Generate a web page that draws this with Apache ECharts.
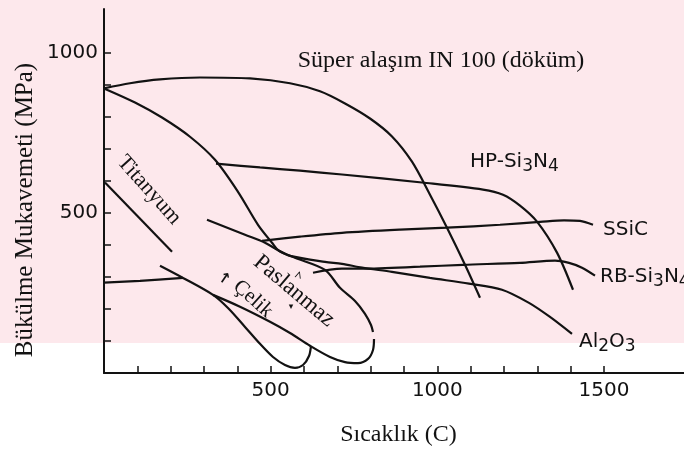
<!DOCTYPE html>
<html><head><meta charset="utf-8">
<script src="https://cdn.jsdelivr.net/npm/echarts@6/dist/echarts.min.js"></script>
<style>html,body{margin:0;padding:0;background:#fff}#c{width:684px;height:452px}</style>
</head><body><div id="c"></div>
<script>
// ---- tick values ----
const xTicks = [100,200,300,400,500,600,700,800,900,1000,1100,1200,1300,1400,1500];
const xLabelValues = [500,1000,1500];
const yTicks = [100,200,300,400,500,600,700,800,900,1000];
const yLabelValues = [500,1000];

// ---- curves [temperature C, strength MPa] ----
const in100 = [[0,889],[78,905],[168,917],[288,923],[438,920],[558,905],[648,880],[723,842],[798,795],[864,739],[924,660],[978,557],[1029,454],[1083,338],[1128,235]];
const hpSi3N4 = [[336,654],[468,642],[588,632],[714,620],[954,595],[1137,573],[1197,557],[1248,523],[1299,473],[1359,376],[1407,260]];
const titanyumUst = [[0,889],[93,845],[174,798],[258,738],[333,666],[402,566],[462,463],[504,407],[525,382],[573,360],[663,322],[708,266],[753,225],[783,185],[801,150],[807,128]];
const al2O3 = [[309,479],[423,432],[483,407],[525,382],[558,366],[663,347],[714,341],[774,329],[864,316],[978,297],[1095,279],[1194,260],[1275,219],[1338,175],[1404,122]];
const ssic = [[474,413],[588,426],[714,438],[888,448],[1029,454],[1188,463],[1308,472],[1380,477],[1428,475],[1467,463]];
const rbLeft = [[0,282],[108,288],[237,297]];
const rbRight = [[627,313],[714,326],[774,326],[948,332],[1077,338],[1248,344],[1353,351],[1395,344],[1434,329],[1473,304]];
const titanyumAlt = [[3,595],[204,379]];
const celikAlt = [[168,335],[237,297],[327,244],[372,203],[423,144],[468,91],[507,50],[543,25],[573,16],[597,25],[615,53],[621,85]];
const paslanmazAlt = [[327,244],[408,207],[498,160],[558,125],[618,85],[678,50],[723,34],[762,31],[792,44],[807,72],[810,106]];

const curves = [
  ['IN 100', in100], ['HP-Si3N4', hpSi3N4], ['Titanyum üst', titanyumUst], ['Al2O3', al2O3],
  ['SSiC', ssic], ['RB-Si3N4 a', rbLeft], ['RB-Si3N4 b', rbRight], ['Titanyum alt', titanyumAlt],
  ['Çelik alt', celikAlt], ['Paslanmaz alt', paslanmazAlt]
];

const INK = '#121212';
const SANS = 'DejaVu Sans';
const SERIF = 'Liberation Serif';
const mctx = document.createElement('canvas').getContext('2d');
function measure(t, fs, fam){ mctx.font = fs + 'px "' + fam + '"'; return mctx.measureText(t).width; }
function midOff(fs, fam){ mctx.font = fs + 'px "' + fam + '"'; mctx.textBaseline = 'middle'; return mctx.measureText('H').actualBoundingBoxDescent; }

function subText(x, baseline, parts, size, subSize, drop){
  let cx = x; const els = [];
  for (const [t, isSub] of parts){
    const fs = isSub ? subSize : size;
    const b = isSub ? baseline + drop : baseline;
    els.push({type:'text', x: cx, y: b - midOff(fs, SANS), z: 20, silent: true,
      style:{text: t, fontSize: fs, fontFamily: SANS, fill: INK, align:'left', verticalAlign:'middle'}});
    cx += measure(t, fs, SANS);
  }
  return els;
}
function serifText(t, cx, baseline, fs, rot){
  return {type:'text', x: cx, y: baseline - midOff(fs, SERIF), z: 20, silent: true, rotation: rot || 0,
    style:{text: t, fontSize: fs, fontFamily: SERIF, fill: INK, align:'center', verticalAlign:'middle'}};
}
function rotText(t, cx, cy, fs, rot, fam, weight){
  return {type:'text', x: cx, y: cy, z: 20, silent: true, rotation: rot,
    style:{text: t, fontSize: fs, fontFamily: fam || SERIF, fontWeight: weight || 'normal', fill: INK, align:'center', verticalAlign:'middle'}};
}

const graphics = [
  {type:'rect', z:-10, silent:true, shape:{x:0,y:0,width:684,height:343}, style:{fill:'#fde8ec'}},
  serifText('Süper alaşım IN 100 (döküm)', 441, 67, 24),
  serifText('Sıcaklık (C)', 398.5, 441, 24),
  rotText('Bükülme Mukavemeti (MPa)', 25, 210, 25, Math.PI/2),
  rotText('Titanyum', 149, 190, 22, -0.84),
  rotText('Paslanmaz', 294, 291, 23, -0.70),
  rotText('Çelik', 253, 299, 21, -0.73),
  rotText('↑', 224, 279, 15, -0.6, SANS, 'bold'),
  rotText('^', 298, 277, 14, -0.3, SERIF, 'bold'),
  rotText('▾', 291, 307, 9, 0, SANS),
  ...subText(470, 167, [['HP-Si',0],['3',1],['N',0],['4',1]], 20, 17, 4),
  ...subText(603, 235, [['SSiC',0]], 20, 17, 4),
  ...subText(600, 282, [['RB-Si',0],['3',1],['N',0],['4',1]], 20, 17, 4),
  ...subText(579, 347, [['Al',0],['2',1],['O',0],['3',1]], 20, 17, 4)
];

const chart = echarts.init(document.getElementById('c'), null, {renderer:'canvas'});
chart.setOption({
  animation: false,
  backgroundColor: '#ffffff',
  grid: {left:104, right:0, top:9, bottom:79, containLabel:false},
  xAxis: {type:'value', min:0, max:1740,
    axisLine:{show:true, lineStyle:{color:INK, width:2}},
    axisTick:{show:true, inside:true, length:7, customValues:xTicks, lineStyle:{color:INK, width:1.5}},
    axisLabel:{customValues:xLabelValues, margin:8, fontSize:20, fontFamily:SANS, color:INK, formatter: v => String(v)},
    splitLine:{show:false}},
  yAxis: {type:'value', min:0, max:1137,
    axisLine:{show:true, lineStyle:{color:INK, width:2}},
    axisTick:{show:true, inside:true, length:7, customValues:yTicks, lineStyle:{color:INK, width:1.5}},
    axisLabel:{customValues:yLabelValues, margin:6, fontSize:20, fontFamily:SANS, color:INK, formatter: v => String(v)},
    splitLine:{show:false}},
  graphic: graphics,
  series: curves.map(([name, data]) => ({
    name, type:'line', data, symbol:'none', smooth:0.3, z:5,
    lineStyle:{color:INK, width:2.2}, silent:true
  }))
});
</script></body></html>
